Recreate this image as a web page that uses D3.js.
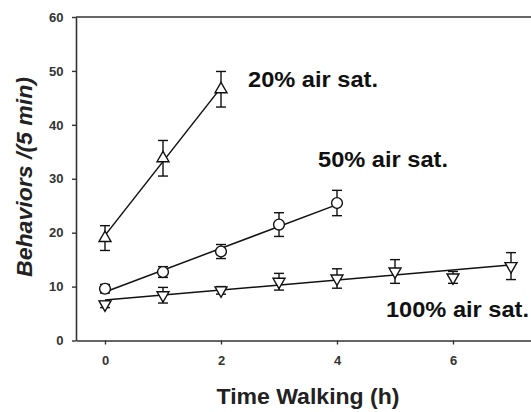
<!DOCTYPE html>
<html>
<head>
<meta charset="utf-8">
<script src="https://cdn.jsdelivr.net/npm/d3@7"></script>
<style>
  html, body { margin: 0; padding: 0; background: #fff; }
  svg { display: block; font-family: "Liberation Sans", Arial, sans-serif; }
</style>
</head>
<body>
<svg id="chart" width="531" height="412"></svg>
<script>
// Hours of walking at which behaviours were counted
const hours20 = [0, 1, 2];
const hours50 = [0, 1, 2, 3, 4];
const hours100 = [0, 1, 2, 3, 4, 5, 6, 7];

// Mean behaviours per 5 min and standard errors
const mean20 = [19.0, 33.8, 46.6];
const sem20 = [2.3, 3.3, 3.3];
const mean50 = [9.6, 12.7, 16.5, 21.5, 25.5];
const sem50 = [0.8, 1.0, 1.3, 2.2, 2.35];
const mean100 = [6.7, 8.4, 9.3, 10.9, 11.5, 12.8, 11.7, 13.8];
const sem100 = [0.6, 1.45, 0.7, 1.55, 1.8, 2.2, 1.1, 2.5];

// Linear fits (intercept, slope) for each oxygen level
const fitIntercept = [19.5, 9.0, 7.5];
const fitSlope = [13.7, 4.05, 0.93];

const seriesNames = ["20% air sat.", "50% air sat.", "100% air sat."];
const yTicks = [0, 10, 20, 30, 40, 50, 60];
const xTicks = [0, 2, 4, 6];

const series = [
  { name: seriesNames[0], x: hours20, y: mean20, e: sem20, shape: "up" },
  { name: seriesNames[1], x: hours50, y: mean50, e: sem50, shape: "circle" },
  { name: seriesNames[2], x: hours100, y: mean100, e: sem100, shape: "down" }
].map((s, i) => ({ ...s, b0: fitIntercept[i], b1: fitSlope[i] }));

const svg = d3.select("#chart");
const x = d3.scaleLinear().domain([-0.5, 7.5]).range([76, 540]);
const y = d3.scaleLinear().domain([0, 60]).range([340.5, 17]);

const axisColor = "#333";

// Top frame line
svg.append("line")
  .attr("x1", x(-0.5)).attr("x2", x(7.5))
  .attr("y1", y(60)).attr("y2", y(60))
  .attr("stroke", axisColor).attr("stroke-width", 1.6);

// Axes
const gx = svg.append("g")
  .attr("transform", `translate(0,${y(0)})`)
  .call(d3.axisBottom(x).tickValues(xTicks).tickSize(4).tickSizeOuter(0).tickPadding(11));
const gy = svg.append("g")
  .attr("transform", `translate(${x(-0.5)},0)`)
  .call(d3.axisLeft(y).tickValues(yTicks).tickSize(4).tickSizeOuter(0).tickPadding(8.5));

[gx, gy].forEach(g => {
  g.select(".domain").attr("stroke", axisColor).attr("stroke-width", 1.6);
  g.selectAll(".tick line").attr("stroke", axisColor).attr("stroke-width", 1.4);
  g.selectAll(".tick text")
    .attr("fill", axisColor)
    .style("font-size", "13px")
    .style("font-weight", "bold")
    .style("font-family", '"Liberation Sans", Arial, sans-serif');
});

// Fit lines over each series' sampled range
const line = d3.line().x(d => x(d[0])).y(d => y(d[1]));
svg.append("g").selectAll("path")
  .data(series)
  .join("path")
  .attr("d", s => {
    const xs = d3.extent(s.x);
    return line(xs.map(v => [v, s.b0 + s.b1 * v]));
  })
  .attr("fill", "none")
  .attr("stroke", "#111")
  .attr("stroke-width", 1.5);

// Error bars
const cap = 5;
series.forEach(s => {
  const g = svg.append("g").attr("stroke", "#111").attr("stroke-width", 1.4);
  s.x.forEach((xv, i) => {
    const cx = x(xv), top = y(s.y[i] + s.e[i]), bot = y(s.y[i] - s.e[i]);
    g.append("line").attr("x1", cx).attr("x2", cx).attr("y1", top).attr("y2", bot);
    g.append("line").attr("x1", cx - cap).attr("x2", cx + cap).attr("y1", top).attr("y2", top);
    g.append("line").attr("x1", cx - cap).attr("x2", cx + cap).attr("y1", bot).attr("y2", bot);
  });
});

// Markers
const sym = {
  up: d3.symbol().type(d3.symbolTriangle).size(62),
  circle: d3.symbol().type(d3.symbolCircle).size(92),
  down: d3.symbol().type(d3.symbolTriangle).size(62)
};
series.forEach(s => {
  svg.append("g").selectAll("path")
    .data(s.x.map((xv, i) => [xv, s.y[i]]))
    .join("path")
    .attr("d", sym[s.shape]())
    .attr("transform", d => `translate(${x(d[0])},${y(d[1])})${s.shape === "down" ? " rotate(180)" : ""}`)
    .attr("fill", "#fff")
    .attr("stroke", "#111")
    .attr("stroke-width", 1.4);
});

// Series labels
const labelPos = [
  { x: 248, y: 87, w: 130 },
  { x: 318, y: 167, w: 130 },
  { x: 386, y: 317, w: 143 }
];
svg.append("g").selectAll("text")
  .data(series)
  .join("text")
  .attr("x", (d, i) => labelPos[i].x)
  .attr("y", (d, i) => labelPos[i].y)
  .attr("textLength", (d, i) => labelPos[i].w)
  .attr("lengthAdjust", "spacingAndGlyphs")
  .attr("fill", "#111")
  .style("font-size", "22px")
  .style("font-weight", "bold")
  .text(d => d.name);

// Axis titles
svg.append("text")
  .attr("x", 308).attr("y", 404)
  .attr("text-anchor", "middle")
  .attr("textLength", 183)
  .attr("lengthAdjust", "spacingAndGlyphs")
  .attr("fill", "#222")
  .style("font-size", "22px")
  .style("font-weight", "bold")
  .text("Time Walking (h)");

svg.append("text")
  .attr("transform", "translate(32,177) rotate(-90)")
  .attr("text-anchor", "middle")
  .attr("textLength", 200)
  .attr("lengthAdjust", "spacingAndGlyphs")
  .attr("fill", "#222")
  .style("font-size", "22px")
  .style("font-weight", "bold")
  .style("font-style", "italic")
  .text("Behaviors /(5 min)");
</script>
</body>
</html>
